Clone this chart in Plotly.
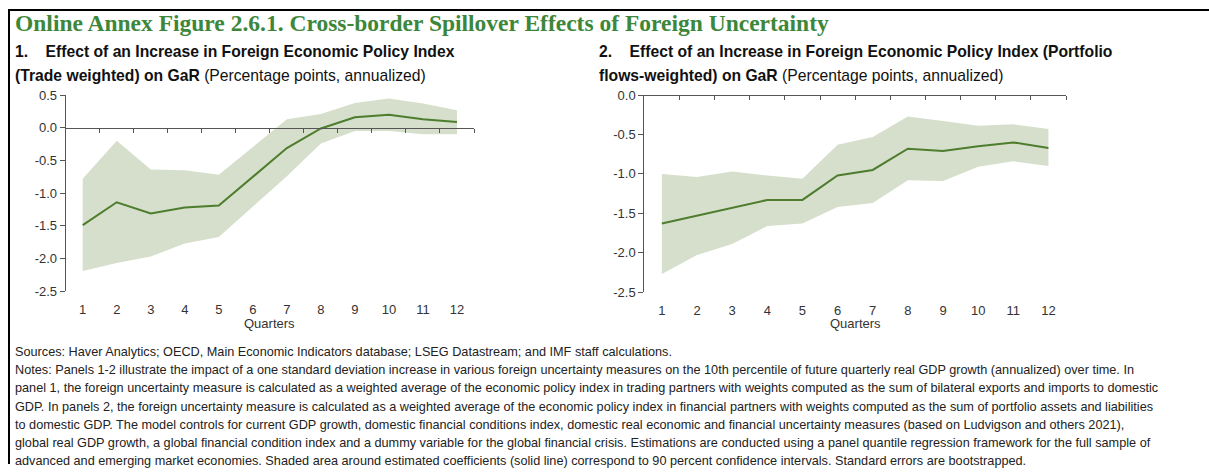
import plotly.graph_objects as go

quarters = list(range(1, 13))

# Panel 1: trade weighted
p1_mid = [-1.49, -1.14, -1.31, -1.22, -1.19, -0.75, -0.31, -0.01, 0.16, 0.20, 0.13, 0.09]
p1_hi = [-0.78, -0.20, -0.64, -0.65, -0.72, -0.30, 0.13, 0.21, 0.38, 0.45, 0.37, 0.27]
p1_lo = [-2.19, -2.07, -1.97, -1.77, -1.67, -1.20, -0.74, -0.24, -0.05, -0.05, -0.10, -0.10]

# Panel 2: portfolio flows weighted
p2_mid = [-1.63, -1.53, -1.43, -1.33, -1.33, -1.02, -0.95, -0.68, -0.71, -0.65, -0.60, -0.67]
p2_hi = [-1.00, -1.04, -0.97, -1.02, -1.06, -0.63, -0.53, -0.27, -0.33, -0.39, -0.37, -0.43]
p2_lo = [-2.27, -2.03, -1.89, -1.66, -1.63, -1.42, -1.37, -1.08, -1.09, -0.91, -0.84, -0.90]

p1_yticks = [0.5, 0.0, -0.5, -1.0, -1.5, -2.0, -2.5]
p2_yticks = [0.0, -0.5, -1.0, -1.5, -2.0, -2.5]

title = "Online Annex Figure 2.6.1. Cross-border Spillover Effects of Foreign Uncertainty"
sub1 = ["<b>1.\u00a0\u00a0\u00a0 Effect of an Increase in Foreign Economic Policy Index</b>",
        "<b>(Trade weighted) on GaR</b> (Percentage points, annualized)"]
sub2 = ["<b>2.\u00a0\u00a0\u00a0 Effect of an Increase in Foreign Economic Policy Index (Portfolio</b>",
        "<b>flows-weighted) on GaR</b> (Percentage points, annualized)"]
notes = [
    "Sources: Haver Analytics; OECD, Main Economic Indicators database; LSEG Datastream; and IMF staff calculations.",
    "Notes: Panels 1-2 illustrate the impact of a one standard deviation increase in various foreign uncertainty measures on the 10th percentile of future quarterly real GDP growth (annualized) over time. In",
    "panel 1, the foreign uncertainty measure is calculated as a weighted average of the economic policy index in trading partners with weights computed as the sum of bilateral exports and imports to domestic",
    "GDP. In panels 2, the foreign uncertainty measure is calculated as a weighted average of the economic policy index in financial partners with weights computed as the sum of portfolio assets and liabilities",
    "to domestic GDP. The model controls for current GDP growth, domestic financial conditions index, domestic real economic and financial uncertainty measures (based on Ludvigson and others 2021),",
    "global real GDP growth, a global financial condition index and a dummy variable for the global financial crisis. Estimations are conducted using a panel quantile regression framework for the full sample of",
    "advanced and emerging market economies. Shaded area around estimated coefficients (solid line) correspond to 90 percent confidence intervals. Standard errors are bootstrapped.",
]

W, H = 1209, 472
LINE = "#4E7D2E"
BAND = "rgba(213,223,203,1)"
AXC = "#555555"
SANS = "Liberation Sans, Arial"
TICKF = dict(family="Liberation Sans, Arial", size=13, color="#333333")

def px_x(p):
    return p / W

def px_y(p):
    return 1 - p / H

fig = go.Figure()

panels = [
    dict(mid=p1_mid, hi=p1_hi, lo=p1_lo, yticks=p1_yticks, x0=65.7, x1=474.0, y0=91.0, y1=293.5, yr=[-2.5, 0.5]),
    dict(mid=p2_mid, hi=p2_hi, lo=p2_lo, yticks=p2_yticks, x0=644.3, x1=1066.0, y0=91.0, y1=294.5, yr=[-2.5, 0.0]),
]

ann = []
for i, p in enumerate(panels):
    n = i + 1
    xa = "x" if n == 1 else "x%d" % n
    ya = "y" if n == 1 else "y%d" % n
    za = "x%d" % (n + 2)
    fig.add_trace(go.Scatter(x=quarters + quarters[::-1], y=p["hi"] + p["lo"][::-1],
                             fill="toself", fillcolor=BAND, line=dict(width=0),
                             mode="lines", hoverinfo="skip", showlegend=False,
                             xaxis=xa, yaxis=ya))
    fig.add_trace(go.Scatter(x=quarters, y=p["mid"], mode="lines",
                             line=dict(color=LINE, width=2), showlegend=False,
                             xaxis=xa, yaxis=ya))
    # invisible trace so the zero-line axis is drawn
    fig.add_trace(go.Scatter(x=quarters, y=p["mid"], mode="markers",
                             marker=dict(opacity=0, size=1), hoverinfo="skip",
                             showlegend=False, xaxis=za, yaxis=ya))
    xdom = [px_x(p["x0"]), px_x(p["x1"])]
    ydom = [px_y(p["y1"]), px_y(p["y0"])]
    xname = "xaxis" if n == 1 else "xaxis%d" % n
    yname = "yaxis" if n == 1 else "yaxis%d" % n
    fig.layout[xname] = dict(domain=xdom, range=[0.5, 12.5], anchor=ya,
                             tickmode="array", tickvals=quarters,
                             ticktext=[str(q) for q in quarters],
                             ticks="", showline=False, showgrid=False, zeroline=False,
                             tickfont=TICKF, ticklabelstandoff=9,
                             fixedrange=True)
    fig.layout[yname] = dict(domain=ydom, range=p["yr"], anchor=xa,
                             tickmode="array", tickvals=p["yticks"],
                             ticktext=["%.1f" % v for v in p["yticks"]],
                             ticks="outside", ticklen=5, tickcolor=AXC,
                             showline=True, linecolor=AXC, linewidth=1,
                             showgrid=False, zeroline=False, tickfont=TICKF,
                             fixedrange=True)
    ymin, ymax = p["yr"]
    pos = ydom[0] + (0 - ymin) / (ymax - ymin) * (ydom[1] - ydom[0])
    zname = "xaxis%d" % (n + 2)
    fig.layout[zname] = dict(domain=xdom, range=[0.5, 12.5], overlaying=xa,
                             anchor="free", position=pos, side="bottom",
                             tickmode="array", tickvals=[q + 0.5 for q in quarters],
                             ticks="outside", ticklen=4, tickcolor=AXC,
                             showticklabels=False, showline=True, linecolor=AXC,
                             linewidth=1, showgrid=False, zeroline=False,
                             fixedrange=True)
    ann.append(dict(text="Quarters", x=(xdom[0] + xdom[1]) / 2, y=px_y(327),
                    xref="paper", yref="paper", xanchor="center", yanchor="middle",
                    showarrow=False, font=TICKF))

ann.append(dict(text="<b>" + title + "</b>", x=px_x(13), y=px_y(17), xref="paper", yref="paper",
                xanchor="left", yanchor="middle", showarrow=False,
                font=dict(family="Liberation Serif, Times New Roman, serif", size=23.5, color="#3D873A")))
for j, s in enumerate(sub1):
    ann.append(dict(text=s, x=px_x(13), y=px_y(46 + j * 25), xref="paper", yref="paper",
                    xanchor="left", yanchor="middle", showarrow=False,
                    font=dict(family=SANS, size=15.7, color="#111111")))
for j, s in enumerate(sub2):
    ann.append(dict(text=s, x=px_x(597), y=px_y(46 + j * 25), xref="paper", yref="paper",
                    xanchor="left", yanchor="middle", showarrow=False,
                    font=dict(family=SANS, size=15.7, color="#111111")))
for j, s in enumerate(notes):
    ann.append(dict(text=s, x=px_x(13), y=px_y(356 + j * 18.9), xref="paper", yref="paper",
                    xanchor="left", yanchor="middle", showarrow=False,
                    font=dict(family=SANS, size=12.7, color="#222222")))

shapes = [
    dict(type="line", xref="paper", yref="paper", x0=px_x(8), x1=1, y0=px_y(3), y1=px_y(3),
         line=dict(color="black", width=2)),
    dict(type="line", xref="paper", yref="paper", x0=px_x(9), x1=px_x(9), y0=px_y(2), y1=0,
         line=dict(color="black", width=2)),
]

fig.update_layout(width=W, height=H, margin=dict(l=0, r=0, t=0, b=0),
                  paper_bgcolor="white", plot_bgcolor="white",
                  annotations=ann, shapes=shapes, showlegend=False)

fig.write_html("out.html", config={"displayModeBar": False},
               post_script="document.body.style.margin='0';document.body.style.overflow='hidden';")
